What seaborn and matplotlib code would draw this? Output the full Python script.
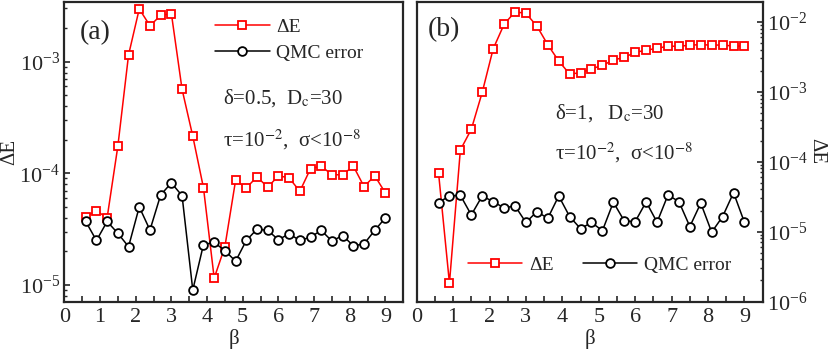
import numpy as np
import pandas as pd
import matplotlib
matplotlib.use("Agg")
import matplotlib.pyplot as plt
import seaborn as sns
from matplotlib.ticker import MultipleLocator, LogLocator

# =====================================================
# DATA
# =====================================================

beta = [0.6, 0.9, 1.2, 1.5, 1.8, 2.1, 2.4, 2.7, 3.0, 3.3,
        3.6, 3.9, 4.2, 4.5, 4.8, 5.1, 5.4, 5.7, 6.0, 6.3,
        6.6, 6.9, 7.2, 7.5, 7.8, 8.1, 8.4, 8.7, 9.0]

# panel (a): delta = 0.5
dE_a = [4.1e-5, 4.6e-5, 4.0e-5, 1.75e-4, 1.15e-3, 2.97e-3, 2.1e-3, 2.6e-3, 2.7e-3, 5.65e-4,
        2.15e-4, 7.4e-5, 1.15e-5, 2.2e-5, 8.65e-5, 7.4e-5, 9.3e-5, 7.5e-5, 9.5e-5, 9.1e-5,
        6.9e-5, 1.1e-4, 1.16e-4, 9.7e-5, 9.7e-5, 1.16e-4, 7.6e-5, 9.5e-5, 6.65e-5]
qmc_a = [3.7e-5, 2.5e-5, 3.7e-5, 2.9e-5, 2.2e-5, 5.0e-5, 3.1e-5, 6.4e-5, 8.2e-5, 6.3e-5,
         9.0e-6, 2.3e-5, 2.4e-5, 2.03e-5, 1.63e-5, 2.5e-5, 3.16e-5, 3.08e-5, 2.54e-5, 2.87e-5,
         2.5e-5, 2.68e-5, 3.08e-5, 2.47e-5, 2.77e-5, 2.24e-5, 2.33e-5, 3.08e-5, 4.0e-5]

# panel (b): delta = 1
dE_b = [6.97e-5, 1.83e-6, 1.47e-4, 2.9e-4, 9.8e-4, 4.1e-3, 9.2e-3, 1.39e-2, 1.32e-2, 8.7e-3,
        4.7e-3, 2.75e-3, 1.79e-3, 1.87e-3, 2.13e-3, 2.38e-3, 2.84e-3, 3.1e-3, 3.65e-3, 3.94e-3,
        4.16e-3, 4.5e-3, 4.45e-3, 4.65e-3, 4.7e-3, 4.65e-3, 4.65e-3, 4.5e-3, 4.5e-3]
qmc_b = [2.6e-5, 3.23e-5, 3.3e-5, 1.73e-5, 3.23e-5, 2.68e-5, 2.18e-5, 2.33e-5, 1.35e-5, 1.93e-5,
         1.55e-5, 3.23e-5, 1.64e-5, 1.1e-5, 1.35e-5, 1.03e-5, 2.63e-5, 1.42e-5, 1.39e-5, 2.66e-5,
         1.36e-5, 3.34e-5, 2.68e-5, 1.18e-5, 2.55e-5, 9.8e-6, 1.64e-5, 3.6e-5, 1.35e-5]

df_a = pd.DataFrame({"beta": beta, "dE": dE_a, "qmc": qmc_a})
df_b = pd.DataFrame({"beta": beta, "dE": dE_b, "qmc": qmc_b})

# =====================================================
# STYLE
# =====================================================

sns.set_style("ticks")
plt.rcParams["font.family"] = ["Liberation Serif", "DejaVu Serif"]
plt.rcParams["mathtext.fontset"] = "stix"
plt.rcParams["axes.linewidth"] = 1.6

FS = 14       # legend
FS_TICK = 16  # tick labels
FS_LAB = 15   # axis labels / notes

fig = plt.figure(figsize=(8.3, 3.55), dpi=100)
ax_a = fig.add_axes([0.0775, 0.1507, 0.4084, 0.845])
ax_b = fig.add_axes([0.502, 0.1507, 0.4169, 0.845])

red_kw = dict(color="red", marker="s", markersize=5.5, markerfacecolor="white",
              markeredgecolor="red", markeredgewidth=1.3, linewidth=1.1)
blk_kw = dict(color="black", marker="o", markersize=6.3, markerfacecolor="white",
              markeredgecolor="black", markeredgewidth=1.3, linewidth=1.1)


def draw_panel(ax, df):
    sns.lineplot(data=df, x="beta", y="dE", ax=ax, label="ΔE", **red_kw)
    sns.lineplot(data=df, x="beta", y="qmc", ax=ax, label="QMC error", **blk_kw)
    ax.set_yscale("log")
    ax.set_xlim(0, 9.5)
    ax.xaxis.set_major_locator(MultipleLocator(1))
    ax.xaxis.set_minor_locator(MultipleLocator(0.5))
    ax.yaxis.set_major_locator(LogLocator(base=10, numticks=10))
    ax.yaxis.set_minor_locator(LogLocator(base=10, subs=np.arange(2, 10), numticks=10))
    ax.tick_params(axis="both", which="major", direction="in", length=4.5, width=1.2,
                   labelsize=FS_TICK, top=False)
    ax.tick_params(axis="x", which="major", pad=5)
    ax.tick_params(axis="y", which="major", pad=3)
    ax.tick_params(axis="both", which="minor", direction="in", length=2.5, width=1.0, top=False)
    ax.tick_params(axis="x", which="minor", length=4.5, width=1.2)
    ax.set_xlabel("β", fontsize=FS_LAB, labelpad=1)
    for s in ax.spines.values():
        s.set_visible(True)
        s.set_linewidth(1.6)


# =====================================================
# PANEL (a)
# =====================================================

draw_panel(ax_a, df_a)
ax_a.set_ylim(7.1e-6, 3.46e-3)
ax_a.tick_params(axis="y", which="both", left=True, right=False)
ax_a.set_ylabel("ΔE", fontsize=FS_LAB, labelpad=0)
ax_a.legend(loc="upper left", bbox_to_anchor=(0.445, 0.945), frameon=False, fontsize=FS,
            handlelength=2.8, handletextpad=0.35, labelspacing=0.45, borderpad=0,
            borderaxespad=0)
ax_a.text(0.046, 0.895, "(a)", transform=ax_a.transAxes, fontsize=20, va="center")
ax_a.text(0.468, 0.678, "δ=0.5,  D$_\\mathrm{c}$=30", transform=ax_a.transAxes,
          fontsize=FS_LAB, va="center")
ax_a.text(0.468, 0.538, "τ=10$^{-2}$,  σ<10$^{-8}$", transform=ax_a.transAxes,
          fontsize=FS_LAB, va="center")

# =====================================================
# PANEL (b)
# =====================================================

draw_panel(ax_b, df_b)
ax_b.set_ylim(1e-6, 1.95e-2)
ax_b.yaxis.tick_right()
ax_b.tick_params(axis="y", which="both", left=False, right=True)
ax_b.set_ylabel("ΔE", fontsize=FS_LAB, rotation=-90, ha="center", va="center")
ax_b.yaxis.set_label_coords(1.155, 0.5)
ax_b.legend(loc="upper left", bbox_to_anchor=(0.148, 0.15), frameon=False, fontsize=FS,
            ncol=2, handlelength=2.8, handletextpad=0.35, columnspacing=1.5,
            borderpad=0, borderaxespad=0)
ax_b.text(0.033, 0.905, "(b)", transform=ax_b.transAxes, fontsize=20, va="center")
ax_b.text(0.40, 0.628, "δ=1,   D$_\\mathrm{c}$=30", transform=ax_b.transAxes,
          fontsize=FS_LAB, va="center")
ax_b.text(0.40, 0.495, "τ=10$^{-2}$,  σ<10$^{-8}$", transform=ax_b.transAxes,
          fontsize=FS_LAB, va="center")

fig.savefig("out.png", dpi=100)
